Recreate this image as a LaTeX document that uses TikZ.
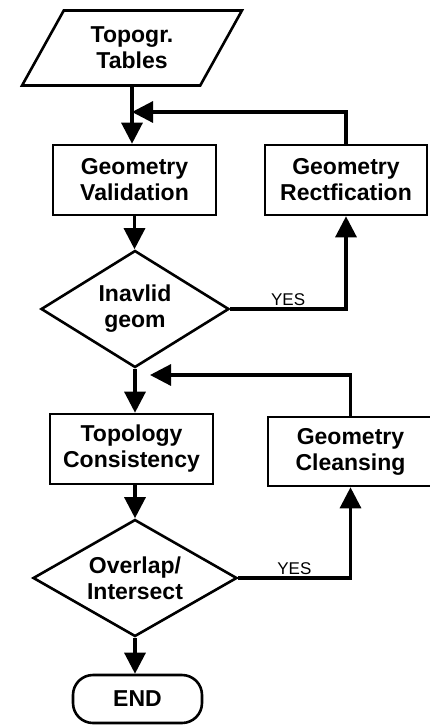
\documentclass[tikz,border=0pt]{standalone}
\usepackage{fontspec}
\setmainfont{Liberation Sans}
\usetikzlibrary{shapes.geometric,arrows.meta}

\begin{document}
\begin{tikzpicture}[x=1pt,y=-1pt,
        every node/.style={font=\bfseries\fontsize{23}{26}\selectfont, align=center},
        procbox/.style={draw, line width=2.6pt, minimum width=163pt, minimum height=70pt, inner sep=2pt},
        decision/.style={draw, diamond, line width=2.6pt, inner sep=0pt},
        flow/.style={line width=3.2pt, -{Triangle[length=21pt,width=21pt]}},
        yeslabel/.style={font=\fontsize{17}{20}\selectfont, above, inner sep=2pt}]
        \useasboundingbox (0,0) rectangle (429,725);

        % input
        \node[draw, trapezium, trapezium left angle=59, trapezium right angle=121,
              trapezium stretches=true, minimum width=220pt, minimum height=75pt,
              line width=2.6pt, inner sep=0pt] (tables) at (132,48) {Topogr.\\Tables};

        % first check
        \node[procbox] (valid) at (134.5,180) {Geometry\\Validation};
        \node[procbox, minimum width=162pt] (rect) at (346,180) {Geometry\\Rectfication};
        \node[decision, minimum width=188pt, minimum height=117pt, shape aspect=1.6] (inval) at (135,309) {Inavlid\\geom};

        % second check
        \node[procbox] (topo) at (131.5,449) {Topology\\Consistency};
        \node[procbox, minimum width=165pt, minimum height=69pt] (clean) at (350.5,451.5) {Geometry\\Cleansing};
        \node[decision, minimum width=204pt, minimum height=117pt, shape aspect=1.74] (overlap) at (135,578) {Overlap/\\Intersect};

        % end
        \node[draw, line width=2.6pt, rounded corners=20pt, minimum width=129pt, minimum height=48pt] (end) at (137.5,699) {END};

        \coordinate (m1) at (132,112);
        \coordinate (m2) at (150,375);

        \draw[flow] (tables.south) -- (tables.south |- valid.north);
        \draw[flow] (rect.north) |- (m1);
        \draw[flow] (valid.south) -- (valid.south |- inval.north);
        \draw[flow] (inval.east) -| node[yeslabel, pos=.25] {YES} (rect.south);
        \draw[flow] (inval.south) -- (inval.south |- topo.north);
        \draw[flow] (clean.north) |- (m2);
        \draw[flow] (topo.south -| overlap.north) -- (overlap.north);
        \draw[flow] (overlap.east) -| node[yeslabel, pos=.25] {YES} (clean.south);
        \draw[flow] (overlap.south) -- (overlap.south |- end.north);
\end{tikzpicture}
\end{document}
